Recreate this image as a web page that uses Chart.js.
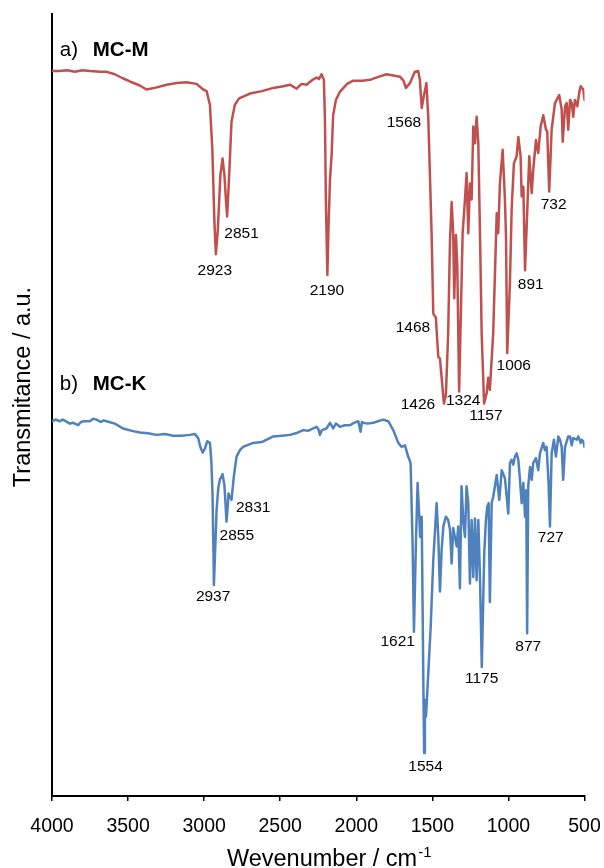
<!DOCTYPE html>
<html>
<head>
<meta charset="utf-8">
<script src="https://cdn.jsdelivr.net/npm/chart.js@4.4.0/dist/chart.umd.min.js"></script>
<style>
html,body{margin:0;padding:0;background:#fff;}
canvas{display:block;}
</style>
</head>
<body>
<canvas id="c" width="604" height="868"></canvas>
<script>
// ---- tick labels (wavenumber, cm-1) ----
const xTicks = [4000, 3500, 3000, 2500, 2000, 1500, 1000, 500];

// ---- series a) MC-M : wavenumber / transmittance (a.u.) ----
const mcmWave = [4000,3949,3900,3850,3800,3750,3686,3640,3587,3535,3488,3423,3379,3324,3247,3180,3116,3050,3006,2984,2962,2946,2933,2923,2910,2893,2879,2867,2857,2849,2840,2820,2798,2770,2699,2620,2546,2480,2436,2392,2360,2327,2295,2261,2246,2228,2213,2206,2200,2190,2183,2173,2162,2152,2134,2108,2060,2020,1960,1910,1850,1801,1713,1690,1674,1647,1615,1593,1582,1570,1555,1539,1527,1505,1494,1477,1461,1450,1424,1411,1396,1384,1373,1363,1356,1345,1336,1324,1301,1286,1275,1264,1253,1242,1231,1220,1209,1198,1187,1176,1160,1143,1133,1122,1100,1077,1067,1056,1038,1023,1016,1008,990,979,964,946,935,920,913,902,891,876,863,847,837,819,804,788,771,753,745,732,716,694,666,650,643,628,617,607,595,584,574,563,547,534,525,508,500];
const mcmT = [93.0,93.0,93.1,92.9,93.1,93.0,92.9,92.9,92.6,92.1,91.7,91.2,90.7,90.9,91.3,91.5,91.6,91.4,90.7,90.5,88.8,83.2,74.5,70.2,73.2,80.1,82.1,80.1,77.0,74.9,78.2,86.7,88.8,89.6,90.2,90.5,90.9,91.1,91.3,90.8,91.4,91.3,91.8,92.2,92.0,92.6,91.9,86.9,77.0,67.6,73.2,79.4,82.6,87.5,89.4,90.4,91.4,91.8,91.8,91.9,92.3,92.6,92.3,91.8,90.9,91.5,92.9,93.0,91.9,88.4,90.0,91.5,87.3,72.8,62.8,62.3,57.4,57.2,51.6,52.7,60.4,72.0,76.7,72.8,64.7,72.6,68.7,53.1,72.8,76.9,80.3,72.8,79.0,77.0,86.1,84.0,87.3,84.0,72.8,60.4,51.6,52.9,54.8,53.3,60.4,75.3,72.8,79.0,83.2,77.0,72.4,57.9,66.6,75.7,81.5,82.4,84.8,82.4,77.4,78.6,68.2,75.7,82.4,77.8,80.7,84.4,82.8,86.1,87.5,85.7,85.5,78.0,85.7,89.0,90.0,88.2,84.2,88.6,89.0,85.7,89.4,89.0,87.3,89.4,88.6,90.4,91.1,90.7,89.4];

// ---- series b) MC-K ----
const mckWave = [4000,3975,3949,3930,3909,3883,3861,3828,3810,3791,3751,3730,3707,3679,3660,3642,3587,3533,3475,3423,3370,3313,3258,3204,3147,3094,3061,3039,3025,3010,2995,2980,2962,2953,2945,2939,2936,2930,2918,2907,2897,2879,2867,2861,2853,2844,2840,2831,2820,2805,2787,2765,2744,2678,2621,2546,2489,2436,2397,2349,2318,2283,2261,2249,2239,2226,2195,2173,2152,2134,2119,2108,2075,2042,2016,1987,1972,1963,1955,1924,1889,1858,1823,1790,1757,1724,1702,1680,1659,1643,1630,1621,1608,1597,1586,1580,1570,1564,1558,1554,1549,1542,1536,1511,1494,1472,1461,1450,1439,1428,1411,1396,1384,1373,1363,1352,1340,1330,1319,1308,1297,1286,1275,1264,1253,1242,1231,1220,1209,1198,1187,1175,1159,1148,1139,1130,1122,1110,1100,1077,1060,1044,1023,1001,990,979,968,957,946,935,924,913,902,891,883,877,870,858,847,837,819,804,793,771,760,749,737,727,716,701,688,672,661,650,640,628,607,595,584,574,551,541,525,519,508,500];
const mckT = [49.4,49.6,49.4,49.6,49.4,49.1,49.2,48.9,49.3,49.4,49.4,49.7,49.6,49.3,49.5,49.4,49.1,48.5,48.2,48.0,47.9,47.7,47.8,47.6,47.6,47.7,47.8,47.3,46.2,45.5,46.0,46.9,46.7,44.6,40.4,33.4,29.0,32.1,38.4,41.1,42.1,42.8,41.5,39.6,36.9,39.0,40.4,40.0,39.6,42.5,45.0,45.8,46.2,46.7,46.8,47.5,47.6,47.7,47.9,48.3,48.2,48.5,48.7,48.4,47.7,48.3,48.5,49.2,48.5,49.1,48.9,48.7,48.9,48.9,49.2,49.4,48.1,49.3,49.2,49.1,49.2,49.4,49.6,49.4,48.3,46.7,46.2,46.4,45.0,44.2,34.2,23.2,34.2,41.7,37.5,35.0,37.5,25.9,14.7,8.1,14.7,12.6,14.7,23.8,32.1,39.2,35.0,28.2,33.4,36.3,37.5,37.1,35.9,31.7,36.1,35.0,33.8,36.3,28.6,41.3,37.1,35.0,41.3,39.2,29.2,37.1,30.0,37.3,29.6,37.1,30.0,18.8,33.0,37.1,38.8,39.2,26.9,39.2,40.0,42.7,39.6,43.3,42.3,37.9,44.2,44.6,44.0,45.0,45.4,44.6,42.1,39.2,41.7,37.5,40.8,23.0,41.3,43.7,42.1,44.2,44.8,43.3,45.4,46.7,45.8,46.2,42.1,36.3,45.4,47.1,45.0,47.5,47.1,46.2,42.1,46.2,47.5,47.5,46.4,47.3,47.1,47.5,46.7,47.1,46.9,46.2];

// ---- peak annotations: text and anchor (wavenumber, a.u.) ----
const mcmPeakText = ['2923','2851','2190','1568','1468','1426','1324','1157','1006','891','732'];
const mcmPeakWave = [2930,2754,2193,1687,1628,1595,1297,1148,965,853,703];
const mcmPeakT    = [68.2,72.8,65.7,86.6,61.1,51.4,51.9,50.1,56.3,66.4,76.3];
const mckPeakText = ['2937','2855','2831','1621','1554','1175','877','727'];
const mckPeakWave = [2941,2785,2678,1728,1545,1176,870,722];
const mckPeakT    = [27.6,35.1,38.6,22.0,6.4,17.3,21.3,34.9];

const seriesTags = [
  {tag:'a)', name:'MC-M', wave:3949, name_wave:3732, t:95.6},
  {tag:'b)', name:'MC-K', wave:3949, name_wave:3732, t:54.0}
];

const FONT = '"Liberation Sans", Arial, sans-serif';
Chart.defaults.font.family = FONT;
Chart.defaults.color = '#000';

const toXY = (w, t) => w.map((v, i) => ({x: v, y: t[i]}));

const annot = {
  id: 'annot',
  afterDatasetsDraw(chart) {
    const {ctx, scales: {x, y}, chartArea} = chart;
    ctx.save();
    ctx.fillStyle = '#000';
    ctx.textAlign = 'center';
    ctx.textBaseline = 'middle';
    ctx.font = '15.5px ' + FONT;
    mcmPeakText.forEach((s, i) => ctx.fillText(s, x.getPixelForValue(mcmPeakWave[i]), y.getPixelForValue(mcmPeakT[i])));
    mckPeakText.forEach((s, i) => ctx.fillText(s, x.getPixelForValue(mckPeakWave[i]), y.getPixelForValue(mckPeakT[i])));

    ctx.textAlign = 'left';
    seriesTags.forEach(s => {
      const py = y.getPixelForValue(s.t);
      ctx.font = '20.5px ' + FONT;
      ctx.fillText(s.tag, x.getPixelForValue(s.wave), py);
      ctx.font = 'bold 20.5px ' + FONT;
      ctx.fillText(s.name, x.getPixelForValue(s.name_wave), py);
    });

    // x axis title with superscript
    ctx.textBaseline = 'alphabetic';
    const main = 'Wevenumber / cm';
    const sup = '-1';
    ctx.font = '23.5px ' + FONT;
    const wMain = ctx.measureText(main).width;
    ctx.font = '15px ' + FONT;
    const wSup = ctx.measureText(sup).width;
    const cx = (chartArea.left + chartArea.right) / 2 + 11;
    const x0 = cx - (wMain + wSup + 1) / 2;
    ctx.font = '23.5px ' + FONT;
    ctx.fillText(main, x0, 866);
    ctx.font = '15px ' + FONT;
    ctx.fillText(sup, x0 + wMain + 1, 857);

    // y axis title
    ctx.translate(30, (chartArea.top + chartArea.bottom) / 2 - 18);
    ctx.rotate(-Math.PI / 2);
    ctx.textAlign = 'center';
    ctx.font = '23.5px ' + FONT;
    ctx.fillText('Transmitance / a.u.', 0, 0);
    ctx.restore();
  }
};

new Chart(document.getElementById('c'), {
  type: 'scatter',
  data: {
    datasets: [
      {label: 'MC-M', data: toXY(mcmWave, mcmT), showLine: true, borderColor: '#C0504D', borderWidth: 2.5, pointRadius: 0, tension: 0, borderJoinStyle: 'round', borderCapStyle: 'round'},
      {label: 'MC-K', data: toXY(mckWave, mckT), showLine: true, borderColor: '#4F81BD', borderWidth: 2.5, pointRadius: 0, tension: 0, borderJoinStyle: 'round', borderCapStyle: 'round'}
    ]
  },
  options: {
    responsive: false,
    animation: false,
    devicePixelRatio: 1,
    layout: {padding: {top: 14, left: 52, right: 19.5, bottom: 15.6}},
    plugins: {legend: {display: false}, tooltip: {enabled: false}},
    scales: {
      x: {
        type: 'linear', reverse: true, min: 500, max: 4000,
        afterBuildTicks: s => { s.ticks = xTicks.map(v => ({value: v})); },
        afterFit: s => { s.paddingLeft = 0; s.paddingRight = 0; },
        ticks: {font: {size: 19.5}, color: '#000', padding: 14, maxRotation: 0, autoSkip: false, callback: v => String(v)},
        grid: {display: true, drawOnChartArea: false, drawTicks: true, tickLength: 5, color: '#000', lineWidth: 1.5},
        border: {display: true, color: '#000', width: 2}
      },
      y: {
        type: 'linear', min: 2.74, max: 100.1,
        ticks: {display: false},
        grid: {display: false, drawTicks: false},
        border: {display: true, color: '#000', width: 2}
      }
    }
  },
  plugins: [annot]
});
</script>
</body>
</html>
